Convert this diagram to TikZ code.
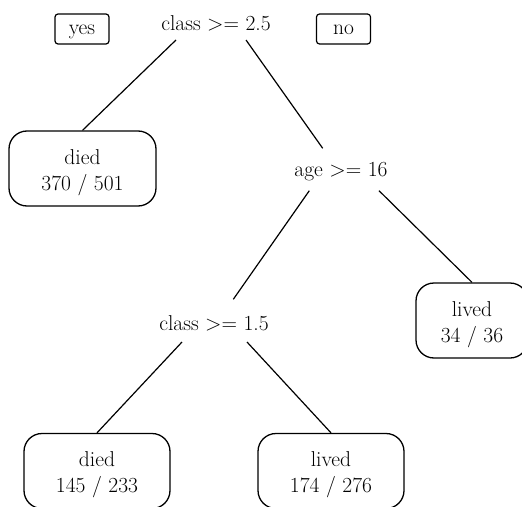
\documentclass[tikz,border=0pt]{standalone}
\usetikzlibrary{calc}
\begin{document}
\begin{tikzpicture}[x=1pt,y=-1pt,
  every node/.style={font=\fontsize{21.5}{26}\selectfont},
  dec/.style={anchor=base, inner sep=0pt},
  leaf/.style={draw, line width=1.3pt, rounded corners=18pt, minimum width=147pt, minimum height=75pt, inner sep=0pt, text height=0pt, text depth=9pt},
  tag/.style={draw, line width=1.2pt, rounded corners=3pt, minimum width=54pt, minimum height=30pt, inner sep=0pt, text height=10pt, text depth=0pt},
  branch/.style={line width=1.2pt}]
\useasboundingbox (0,0) rectangle (522,506);
\clip (0,0) rectangle (522,506);

% decision nodes
\node[dec] (root) at (216,30) {class >= 2.5};
\node[dec] (age) at (341,176.7) {age >= 16};
\node[dec] (cls) at (214,330.7) {class >= 1.5};

% yes / no tags
\node[tag] (yes) at (82,29) {yes};
\node[tag] (no) at (343.5,29) {no};

% leaves
\node[leaf] (died1) at (82.5,168.5) {\begin{tabular}[t]{@{}c@{}}died\\370 / 501\end{tabular}};
\node[leaf, minimum width=112pt] (lived1) at (472,320.5) {\begin{tabular}[t]{@{}c@{}}lived\\34 / 36\end{tabular}};
\node[leaf, minimum width=146pt] (died2) at (97,471) {\begin{tabular}[t]{@{}c@{}}died\\145 / 233\end{tabular}};
\node[leaf, minimum width=146pt] (lived2) at (331,471) {\begin{tabular}[t]{@{}c@{}}lived\\174 / 276\end{tabular}};

% branch end points
\coordinate (rootL) at ($(root.base)+(-40,10)$);
\coordinate (rootR) at ($(root.base)+(30,10)$);
\coordinate (ageT) at ($(age.base)+(-18.3,-28.4)$);
\coordinate (ageL) at ($(age.base)+(-31.7,14)$);
\coordinate (ageR) at ($(age.base)+(38,14)$);
\coordinate (clsT) at ($(cls.base)+(19.3,-31.4)$);
\coordinate (clsL) at ($(cls.base)+(-32,11.3)$);
\coordinate (clsR) at ($(cls.base)+(33,11.3)$);

% branches
\draw[branch] (rootL) -- (died1.north);
\draw[branch] (rootR) -- (ageT);
\draw[branch] (ageL) -- (clsT);
\draw[branch] (ageR) -- (lived1.north);
\draw[branch] (clsL) -- (died2.north);
\draw[branch] (clsR) -- (lived2.north);
\end{tikzpicture}
\end{document}
